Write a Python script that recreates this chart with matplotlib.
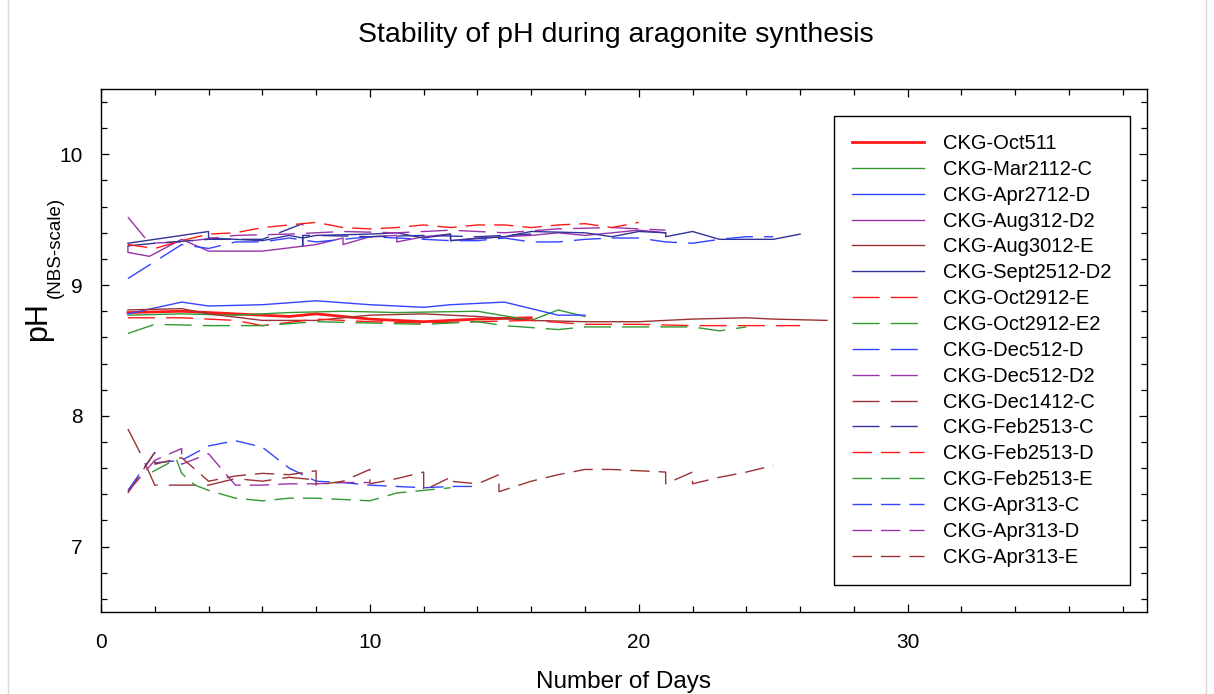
import matplotlib
matplotlib.use("Agg")
import matplotlib.pyplot as plt
from matplotlib.lines import Line2D

plt.rcParams['font.family'] = ['Liberation Sans', 'DejaVu Sans']
plt.rcParams['lines.scale_dashes'] = False

# ---- data (days, pH) ----
names = ['CKG-Oct511', 'CKG-Mar2112-C', 'CKG-Apr2712-D', 'CKG-Aug312-D2',
         'CKG-Aug3012-E', 'CKG-Sept2512-D2', 'CKG-Oct2912-E', 'CKG-Oct2912-E2',
         'CKG-Dec512-D', 'CKG-Dec512-D2', 'CKG-Dec1412-C', 'CKG-Feb2513-C',
         'CKG-Feb2513-D', 'CKG-Feb2513-E', 'CKG-Apr313-C', 'CKG-Apr313-D',
         'CKG-Apr313-E']

days_oct511 = [1, 3, 5, 7, 8, 10, 12, 14, 16]
ph_oct511 = [8.79, 8.80, 8.78, 8.76, 8.78, 8.74, 8.72, 8.74, 8.75]

days_mar2112c = [1, 3, 5, 7, 9, 11, 14, 16, 17, 18]
ph_mar2112c = [8.77, 8.78, 8.77, 8.79, 8.80, 8.79, 8.80, 8.73, 8.81, 8.76]

days_apr2712d = [1, 3, 4, 6, 8, 10, 12, 13, 15, 17, 18]
ph_apr2712d = [8.78, 8.87, 8.84, 8.85, 8.88, 8.85, 8.83, 8.85, 8.87, 8.77, 8.77]

days_aug312d2 = [1, 1, 1.8, 3, 4, 6, 8, 9, 9, 10, 11, 11, 12, 13, 13, 14, 16, 17, 18, 20, 21]
ph_aug312d2 = [9.30, 9.25, 9.22, 9.35, 9.26, 9.26, 9.31, 9.36, 9.31, 9.37, 9.38, 9.33,
               9.37, 9.39, 9.34, 9.36, 9.38, 9.40, 9.38, 9.42, 9.40]

days_aug3012e = [1, 3, 4, 6, 8, 10, 12, 14, 16, 18, 20, 22, 24, 25, 27]
ph_aug3012e = [8.81, 8.82, 8.78, 8.73, 8.73, 8.77, 8.78, 8.76, 8.73, 8.72, 8.72, 8.74,
               8.75, 8.74, 8.73]

days_sept2512d2 = [1, 4, 4, 6, 7, 7.5, 8, 10, 11, 12, 13, 13, 15, 16, 18, 19, 20, 21,
                   21, 22, 23, 25, 26]
ph_sept2512d2 = [9.32, 9.41, 9.36, 9.34, 9.38, 9.36, 9.38, 9.39, 9.40, 9.36, 9.39, 9.34,
                 9.37, 9.41, 9.40, 9.37, 9.41, 9.40, 9.37, 9.41, 9.35, 9.35, 9.39]

days_oct2912e = [1, 3, 5, 6, 8, 10, 12, 14, 16, 18, 20, 22, 24, 26]
ph_oct2912e = [8.75, 8.75, 8.73, 8.69, 8.74, 8.72, 8.71, 8.72, 8.73, 8.70, 8.70, 8.69,
               8.69, 8.69]

days_oct2912e2 = [1, 2, 4, 6, 8, 10, 12, 14, 15, 17, 18, 20, 22, 23, 24]
ph_oct2912e2 = [8.63, 8.70, 8.69, 8.69, 8.72, 8.71, 8.70, 8.72, 8.69, 8.66, 8.68, 8.68,
                8.68, 8.65, 8.68]

days_dec512d = [1, 3, 4, 5, 6, 7, 8, 9, 10, 11, 12, 13, 14, 15, 16, 17, 18, 19, 20, 21,
                22, 23, 24, 25]
ph_dec512d = [9.05, 9.31, 9.28, 9.33, 9.33, 9.36, 9.33, 9.35, 9.37, 9.36, 9.35, 9.34,
              9.34, 9.36, 9.33, 9.33, 9.35, 9.36, 9.36, 9.33, 9.32, 9.35, 9.37, 9.37]

days_dec512d2 = [1, 1.8, 3, 5, 7, 9, 11, 13, 15, 17, 19, 21]
ph_dec512d2 = [9.52, 9.32, 9.33, 9.38, 9.39, 9.41, 9.40, 9.42, 9.40, 9.43, 9.44, 9.42]

days_dec1412c = [1, 1.5, 2, 3, 4, 5, 6, 7, 8]
ph_dec1412c = [7.90, 7.70, 7.47, 7.47, 7.47, 7.52, 7.50, 7.53, 7.51]

days_feb2513c = [1, 2, 4, 6, 7.5, 7.5, 7.5, 8, 10, 12, 14, 16]
ph_feb2513c = [9.30, 9.32, 9.35, 9.35, 9.47, 9.30, 9.38, 9.38, 9.37, 9.38, 9.37, 9.39]

days_feb2513d = [1, 2, 3, 4, 5, 6, 7, 8, 9, 10, 11, 12, 13, 14, 15, 16, 17, 18, 19, 20]
ph_feb2513d = [9.31, 9.28, 9.34, 9.39, 9.40, 9.44, 9.46, 9.48, 9.44, 9.43, 9.44, 9.46,
               9.44, 9.46, 9.46, 9.44, 9.46, 9.47, 9.44, 9.48]

days_feb2513e = [1.9, 2.8, 3, 3.5, 4, 5, 6, 7, 8, 9, 10, 10.5, 11, 12, 13]
ph_feb2513e = [7.57, 7.67, 7.56, 7.47, 7.43, 7.37, 7.35, 7.37, 7.37, 7.36, 7.35, 7.38,
               7.41, 7.43, 7.45]

days_apr313c = [1, 2, 2, 3, 4, 5, 6, 7, 8, 9, 10, 11, 12, 13, 14]
ph_apr313c = [7.43, 7.72, 7.64, 7.66, 7.77, 7.81, 7.76, 7.60, 7.50, 7.49, 7.47, 7.46,
              7.45, 7.46, 7.46]

days_apr313d = [1, 2, 3, 3, 4, 5, 6, 7, 8, 9, 10]
ph_apr313d = [7.42, 7.66, 7.75, 7.63, 7.71, 7.47, 7.47, 7.48, 7.48, 7.49, 7.49]

days_apr313e = [1, 2, 2, 3, 4, 5, 6, 7, 8, 8, 9, 10, 10, 11, 12, 12, 13, 13, 14, 14.8,
                14.8, 16, 17, 18, 19, 20, 21, 21, 22, 22, 23, 24, 25]
ph_apr313e = [7.41, 7.72, 7.63, 7.68, 7.50, 7.54, 7.56, 7.55, 7.58, 7.47, 7.50, 7.59,
              7.48, 7.52, 7.57, 7.43, 7.53, 7.50, 7.48, 7.55, 7.42, 7.50, 7.55, 7.59,
              7.59, 7.58, 7.57, 7.48, 7.57, 7.48, 7.53, 7.57, 7.62]

all_days = [days_oct511, days_mar2112c, days_apr2712d, days_aug312d2, days_aug3012e,
            days_sept2512d2, days_oct2912e, days_oct2912e2, days_dec512d, days_dec512d2,
            days_dec1412c, days_feb2513c, days_feb2513d, days_feb2513e, days_apr313c,
            days_apr313d, days_apr313e]
all_ph = [ph_oct511, ph_mar2112c, ph_apr2712d, ph_aug312d2, ph_aug3012e,
          ph_sept2512d2, ph_oct2912e, ph_oct2912e2, ph_dec512d, ph_dec512d2,
          ph_dec1412c, ph_feb2513c, ph_feb2513d, ph_feb2513e, ph_apr313c,
          ph_apr313d, ph_apr313e]

# ---- styles ----
cols = ['#ff1a1a', '#339933', '#3344ff', '#9933aa', '#993333', '#333399']
dash_a = (0, (19.5, 8))
dash_b = (0, (14, 6.5))
colors = cols + cols + cols[:5]
styles = ['-'] * 6 + [dash_a] * 6 + [dash_b] * 5
widths = [2.0] + [1.0] * 16

fig = plt.figure(figsize=(12.14, 6.94), dpi=100)
ax = fig.add_axes([0.0832, 0.1182, 0.8616, 0.7536])

for d, p, c, ls, lw, nm in zip(all_days, all_ph, colors, styles, widths, names):
    ax.plot(d, p, color=c, linestyle=ls, linewidth=lw, label=nm)

ax.set_xlim(0, 38.9)
ax.set_ylim(6.5, 10.5)
ax.set_xticks([0, 10, 20, 30])
ax.set_yticks([7, 8, 9, 10])
ax.set_xticks(range(0, 39, 2), minor=True)
ax.set_yticks([6.6 + 0.2 * i for i in range(20)], minor=True)
ax.tick_params(which='both', direction='in', top=True, right=True, labelsize=15)
ax.tick_params(which='major', length=6, width=0.9)
ax.tick_params(which='minor', length=4, width=0.9)
ax.tick_params(axis='x', pad=15)
ax.tick_params(axis='y', pad=13)
for s in ax.spines.values():
    s.set_linewidth(1.0)

ax.set_xlabel('Number of Days', fontsize=17.5, labelpad=14)
fig.text(0.031, 0.536, 'pH', rotation=90, fontsize=22, ha='center', va='center')
fig.text(0.046, 0.643, '(NBS-scale)', rotation=90, fontsize=13.5, ha='center', va='center')
fig.text(0.507, 0.949, 'Stability of pH during aragonite synthesis', fontsize=20.5,
         ha='center', va='center')

leg = ax.legend(loc='upper right', bbox_to_anchor=(0.9837, 0.9484), borderaxespad=0,
                fontsize=14.5, fancybox=False, edgecolor='black', framealpha=1,
                handlelength=3.6, handletextpad=0.95, labelspacing=0.34, borderpad=0.9)
leg.get_frame().set_linewidth(1.0)

# light page frame like the original export
fig.add_artist(Line2D([8 / 1214, 8 / 1214], [0, 1], color='#d8d8d8', lw=1))
fig.add_artist(Line2D([1206 / 1214, 1206 / 1214], [0, 1], color='#d8d8d8', lw=1))

fig.savefig('out.png', dpi=100)
